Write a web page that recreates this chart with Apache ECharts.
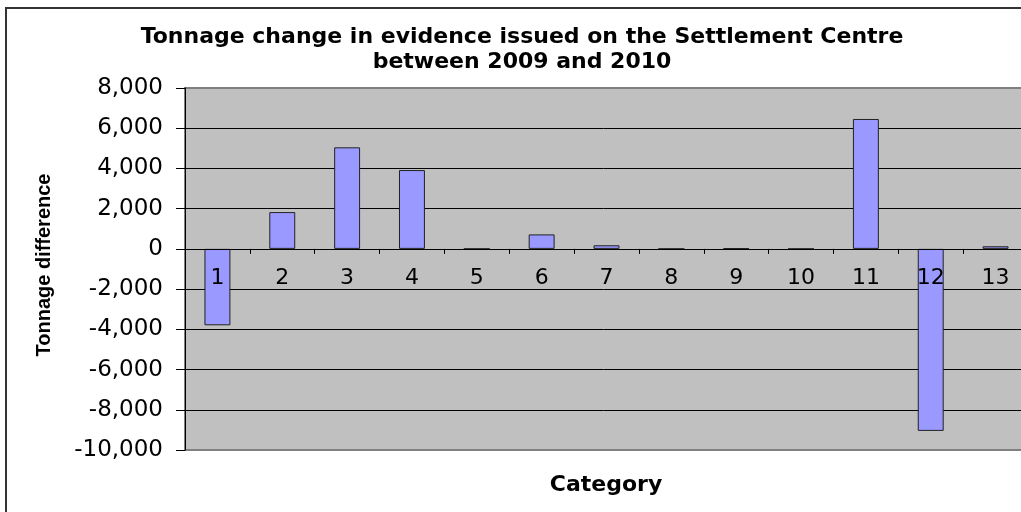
<!DOCTYPE html>
<html>
<head>
<meta charset="utf-8">
<script src="https://cdn.jsdelivr.net/npm/echarts@6/dist/echarts.min.js"></script>
<style>
html,body{margin:0;padding:0;background:#fff;}
#chart{width:1021px;height:512px;}
</style>
</head>
<body>
<div id="chart"></div>
<script>
const categories = ['1','2','3','4','5','6','7','8','9','10','11','12','13'];
const tonnageDifference = [-3800, 1830, 5050, 3920, 0, 720, 180, 0, 30, 0, 6460, -9050, 130];
const yTicks = [-10000, -8000, -6000, -4000, -2000, 0, 2000, 4000, 6000, 8000];
const titleLines = ['Tonnage change in evidence issued on the Settlement Centre', 'between 2009 and 2010'];
const yAxisTitle = 'Tonnage difference';
const xAxisTitle = 'Category';

const yMin = yTicks[0], yMax = yTicks[yTicks.length - 1];
const gridTop = 88, gridHeight = 362;
// place the category axis on the zero line
const zeroOffset = -gridHeight * (0 - yMin) / (yMax - yMin);

const chart = echarts.init(document.getElementById('chart'), null, {renderer: 'canvas'});
const splitColors = yTicks.map((v, i) => (i === 0 || i === yTicks.length - 1) ? '#808080' : '#000000');

chart.setOption({
  animation: false,
  backgroundColor: '#ffffff',
  grid: {
    left: 185, top: gridTop, width: 843, height: gridHeight,
    outerBoundsMode: 'none', containLabel: false,
    show: true, backgroundColor: '#c0c0c0', borderColor: '#808080', borderWidth: 2
  },
  xAxis: {
    type: 'category',
    data: categories,
    position: 'bottom',
    offset: zeroOffset,
    z: 10,
    axisLine: {onZero: false, lineStyle: {color: '#000', width: 1}},
    axisTick: {show: true, length: 5, interval: 0, alignWithLabel: false, lineStyle: {color: '#000'}},
    axisLabel: {color: '#000', fontFamily: 'DejaVu Sans', fontSize: 22, margin: 18, interval: 0},
    splitLine: {show: false}
  },
  yAxis: {
    type: 'value',
    min: yMin, max: yMax, interval: 2000,
    axisLine: {show: true, lineStyle: {color: '#000', width: 1}},
    axisTick: {show: true, length: 9, lineStyle: {color: '#000'}},
    axisLabel: {
      color: '#000', fontFamily: 'DejaVu Sans', fontSize: 23, margin: 22,
      formatter: v => v.toLocaleString('en-US')
    },
    splitLine: {show: true, lineStyle: {color: splitColors, width: 1}}
  },
  series: [{
    type: 'bar',
    data: tonnageDifference,
    barWidth: '40%',
    z: 2,
    itemStyle: {color: '#9999ff', borderColor: '#222', borderWidth: 1}
  }],
  graphic: [
    {type: 'polyline', shape: {points: [[6, 520], [6, 8], [1030, 8]]}, style: {fill: 'none', stroke: '#333', lineWidth: 2}, silent: true, z: 100},
    {type: 'text', x: 522, y: 37, style: {text: titleLines[0], fill: '#000', font: 'bold 22px "DejaVu Sans"', textAlign: 'center', textVerticalAlign: 'middle'}},
    {type: 'text', x: 522, y: 62, style: {text: titleLines[1], fill: '#000', font: 'bold 22px "DejaVu Sans"', textAlign: 'center', textVerticalAlign: 'middle'}},
    {type: 'text', x: 606, y: 485, style: {text: xAxisTitle, fill: '#000', font: 'bold 22px "DejaVu Sans"', textAlign: 'center', textVerticalAlign: 'middle'}},
    {type: 'text', x: 44, y: 265, rotation: Math.PI / 2, style: {text: yAxisTitle, fill: '#000', font: 'bold 20px "Liberation Sans"', textAlign: 'center', textVerticalAlign: 'middle'}}
  ]
});
</script>
</body>
</html>
